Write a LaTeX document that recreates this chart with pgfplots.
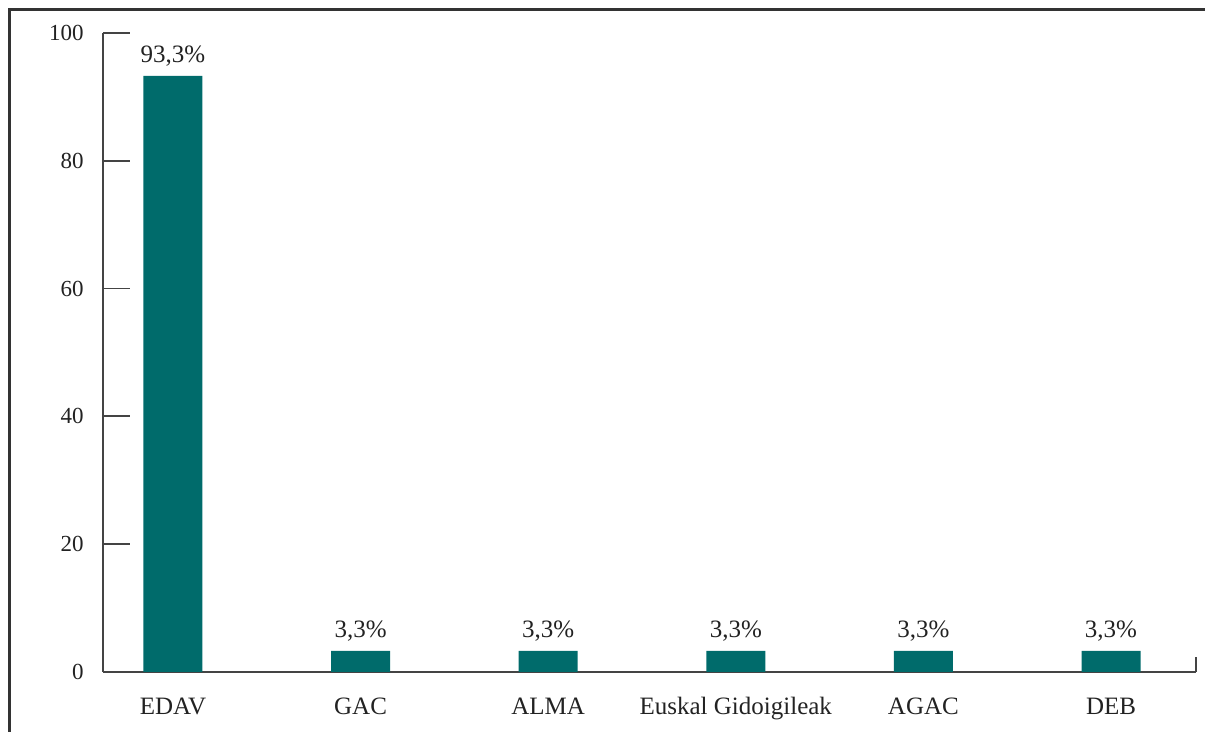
\documentclass[border=0pt]{standalone}
\usepackage{fontspec}
\setmainfont{Liberation Serif}
\usepackage{pgfplots}
\pgfplotsset{compat=1.18}
\definecolor{barc}{RGB}{0,107,107}
\definecolor{axc}{RGB}{68,68,68}
\definecolor{txt}{RGB}{34,34,34}
\definecolor{frm}{RGB}{51,51,51}
\begin{document}
\begin{tikzpicture}[x=1pt,y=1pt]
\useasboundingbox (0,0) rectangle (602.5,366);
\draw[line width=1.5pt, color=frm] (4.75,0) -- (4.75,361) -- (602.5,361);
\begin{axis}[
  at={(51.5pt,30pt)}, anchor=south west,
  scale only axis, width=546.5pt, height=319.5pt,
  xmin=-0.373, xmax=5.453, ymin=0, ymax=100,
  axis x line=bottom, axis y line=left,
  axis line style={-, line width=0.9pt, color=axc},
  ytick={0,20,...,100},
  /pgf/number format/assume math mode=true,
  major tick length=13.5pt,
  ytick style={line width=0.9pt, color=axc},
  ytick align=inside,
  xtick={0,...,5},
  xticklabels={EDAV,GAC,ALMA,Euskal Gidoigileak,AGAC,DEB},
  x tick style={draw=none},
  yticklabel style={anchor=east, inner sep=0pt, xshift=-9.5pt, font=\rmfamily\fontsize{11.5}{13}\selectfont, text=txt},
  xticklabel style={anchor=base, inner sep=0pt, yshift=-8pt, font=\rmfamily\fontsize{12.5}{14}\selectfont, text=txt},
  ybar, bar width=29.5pt,
  nodes near coords, point meta=explicit symbolic,
  nodes near coords style={anchor=base, inner sep=0pt, yshift=6.5pt, font=\rmfamily\fontsize{12.5}{14}\selectfont, text=txt},
  clip=false,
]
\addplot[fill=barc, draw=none] coordinates {
  (0,93.3) [93,3\%]
  (1,3.3) [3,3\%]
  (2,3.3) [3,3\%]
  (3,3.3) [3,3\%]
  (4,3.3) [3,3\%]
  (5,3.3) [3,3\%]
};
\draw[axc, line width=0.9pt] (rel axis cs:1,0) -- ++(0pt,7.5pt);
\end{axis}
\end{tikzpicture}
\end{document}
